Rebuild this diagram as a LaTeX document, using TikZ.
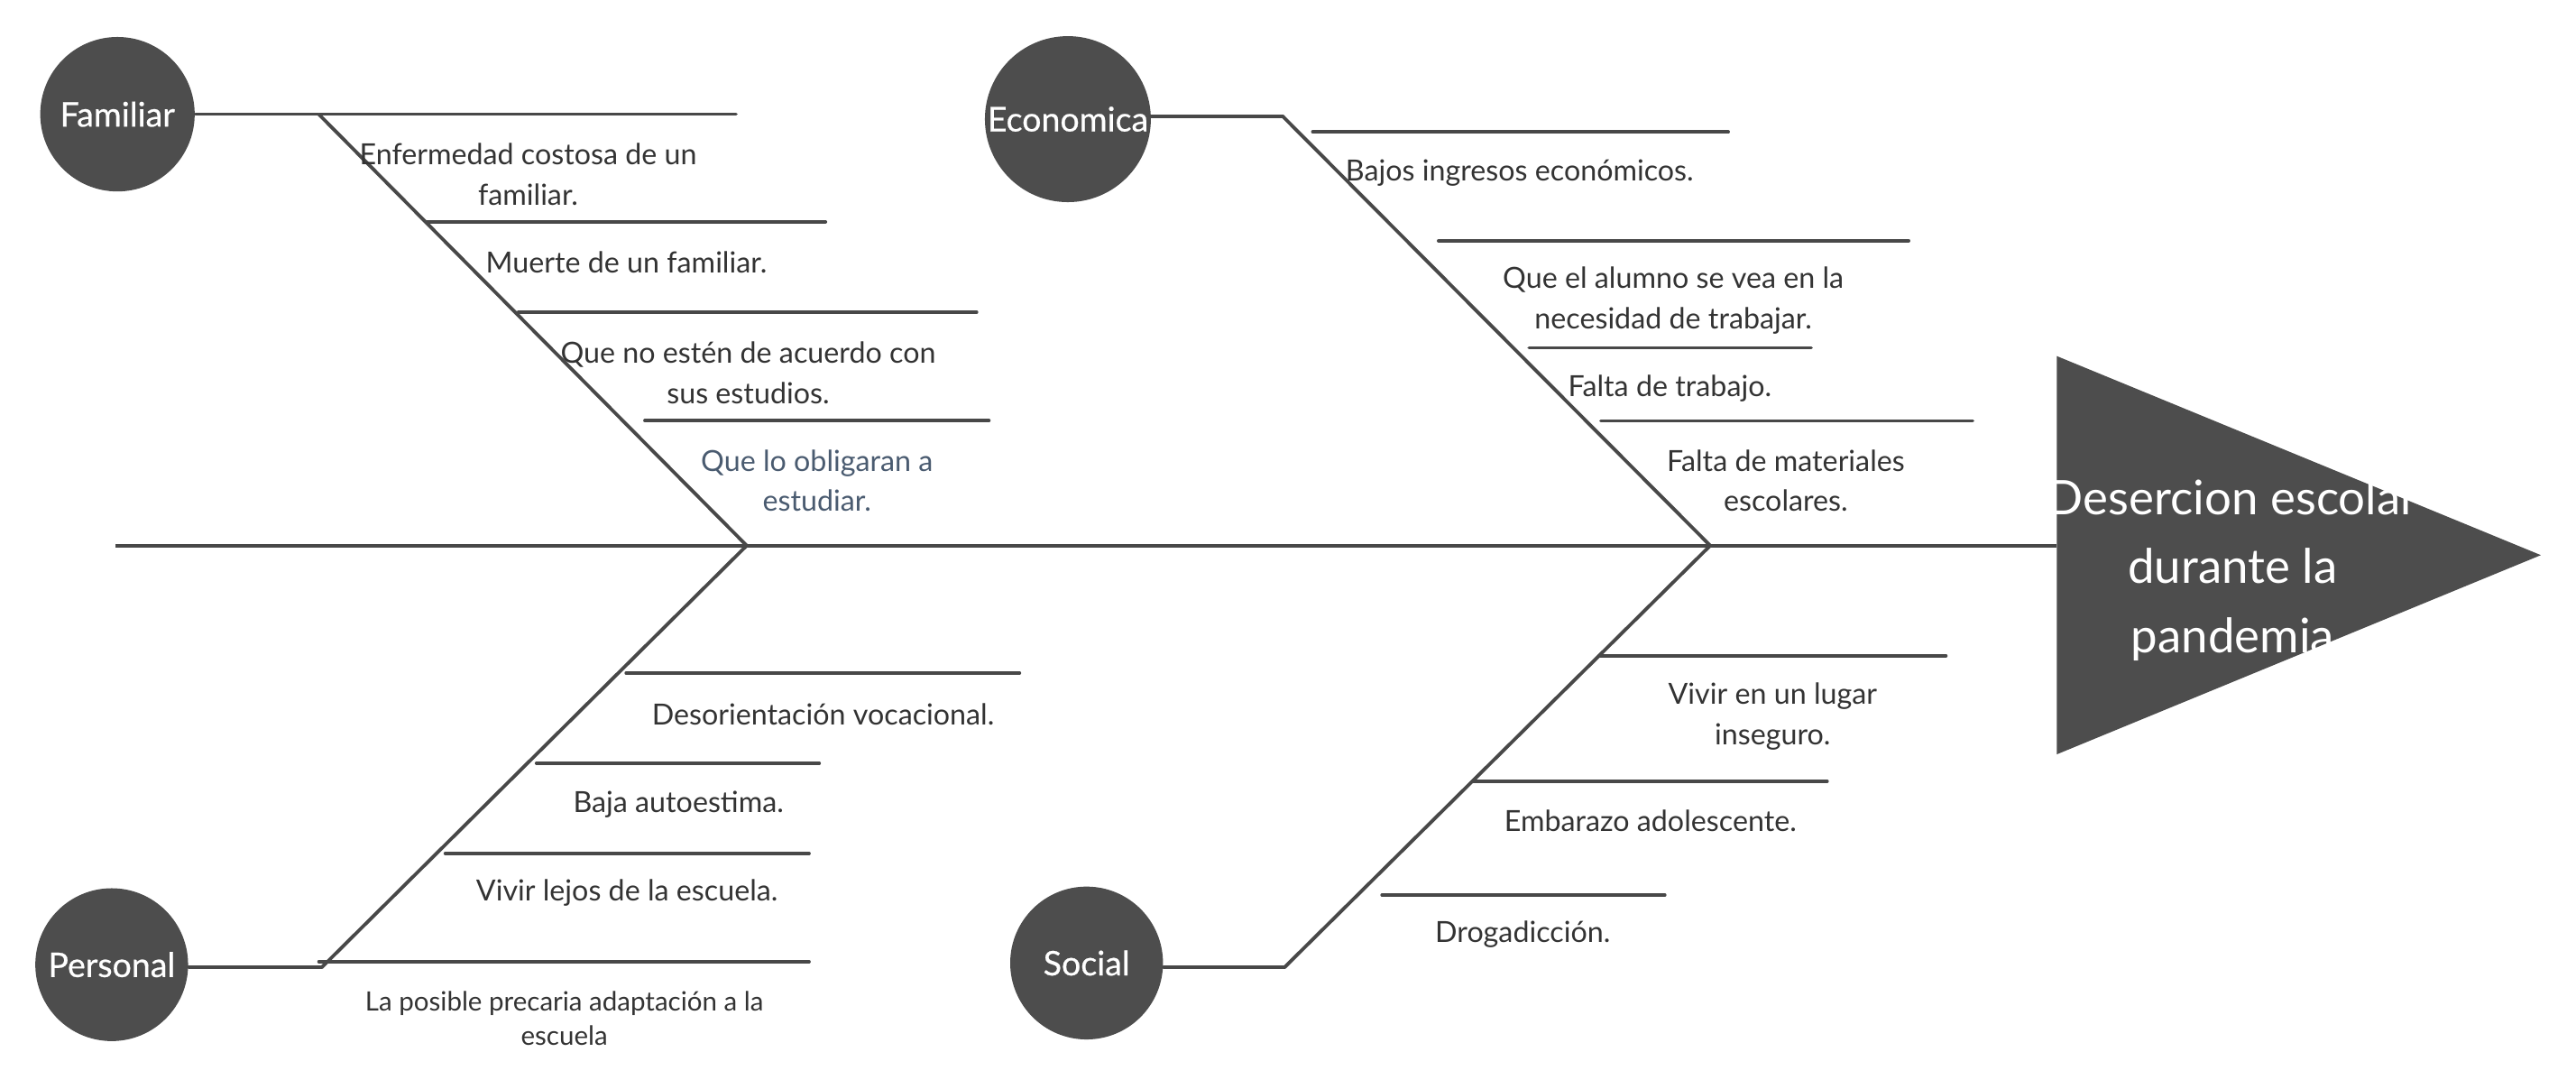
\documentclass[tikz,border=0pt]{standalone}
\usepackage{fontspec}
\setmainfont{Lato}
\newfontfamily\causefont[FakeBold=0.6]{Lato}
\definecolor{lc}{HTML}{484848}
\definecolor{fc}{HTML}{4D4D4D}
\definecolor{tc}{HTML}{333333}
\definecolor{bc}{HTML}{4A5B70}
\begin{document}
\begin{tikzpicture}[x=0.5pt,y=-0.5pt,
  bone/.style={draw=lc, line width=1pt, line cap=round},
  spine/.style={draw=lc, line width=1.1pt},
  diag/.style={draw=lc, line width=1.05pt},
  cause/.style={circle, fill=fc, inner sep=0pt, text=white, font=\causefont\fontsize{10.3}{12}\selectfont},
  lbl/.style={text=tc, align=center, inner sep=0pt, font=\fontsize{8.85}{12.3}\selectfont},
  smalllbl/.style={text=tc, align=center, inner sep=0pt, font=\fontsize{8.1}{10.5}\selectfont},
  headtext/.style={text=white, align=center, inner sep=0pt, font=\fontsize{14.5}{21}\selectfont}]
\useasboundingbox (0,0) rectangle (1568,662.66);

% head
\fill[fc] (1252,216.7) -- (1546.6,337.8) -- (1252,459) -- cycle;
\coordinate (head) at (1252,332);
\coordinate (tail) at (70.5,332);
\coordinate (jL) at (454.5,332);
\coordinate (jR) at (1041,332);
\draw[spine] (tail) -- (head);
\node[headtext] (eff) at (1359,347) {Desercion escolar\\durante la\\pandemia};

% cause circles
\node[cause, minimum size=47pt] (fam) at (71.5,69.5) {Familiar};
\node[cause, minimum size=50.5pt] (eco) at (650,72.5) {Economica};
\node[cause, minimum size=46.5pt] (per) at (68,587) {Personal};
\node[cause, minimum size=46.5pt] (soc) at (661.4,586) {Social};

\coordinate (famK) at (194,69.5);
\coordinate (ecoK) at (781,71);
\coordinate (perK) at (196,588.5);
\coordinate (socK) at (782,588.5);

\draw[bone] (fam.east) -- (famK);
\draw[diag] (famK) -- (jL);
\draw[bone] (eco.east |- ecoK) -- (ecoK);
\draw[diag] (ecoK) -- (jR);
\draw[bone] (per.east |- perK) -- (perK);
\draw[diag] (perK) -- (jL);
\draw[bone] (soc.east |- socK) -- (socK);
\draw[diag] (socK) -- (jR);

% Familiar bones
\coordinate (f1a) at (194.5,69.5); \coordinate (f1b) at (448,69.5);
\coordinate (f2a) at (260,135); \coordinate (f2b) at (502.5,135);
\coordinate (f3a) at (315.5,190); \coordinate (f3b) at (594.5,190);
\coordinate (f4a) at (392.5,256); \coordinate (f4b) at (602,256);
\draw[bone] (f1a) -- (f1b);
\draw[bone] (f2a) -- (f2b);
\draw[bone] (f3a) -- (f3b);
\draw[bone] (f4a) -- (f4b);
\node[lbl] (t1) at (321.5,106) {Enfermedad costosa de un\\familiar.};
\node[lbl] (t2) at (381.3,159.6) {Muerte de un familiar.};
\node[lbl] (t3) at (455.4,226.8) {Que no estén de acuerdo con\\sus estudios.};
\node[lbl, text=bc] (t4) at (497.3,292.5) {Que lo obligaran a\\estudiar.};

% Economica bones
\coordinate (e1a) at (799,80.3); \coordinate (e1b) at (1052,80.3);
\coordinate (e2a) at (875.6,146.5); \coordinate (e2b) at (1161.8,146.5);
\coordinate (e3a) at (930.7,211.7); \coordinate (e3b) at (1102.5,211.7);
\coordinate (e4a) at (974.4,256.2); \coordinate (e4b) at (1200.8,256.2);
\draw[bone] (e1a) -- (e1b);
\draw[bone] (e2a) -- (e2b);
\draw[bone] (e3a) -- (e3b);
\draw[bone] (e4a) -- (e4b);
\node[lbl] (u1) at (925,105.3) {Bajos ingresos económicos.};
\node[lbl] (u2) at (1018.5,182.9) {Que el alumno se vea en la\\necesidad de trabajar.};
\node[lbl] (u3) at (1016.4,236.6) {Falta de trabajo.};
\node[lbl] (u4) at (1087,292.5) {Falta de materiales\\escolares.};

% Personal bones
\coordinate (p1a) at (381.1,409.5); \coordinate (p1b) at (620.6,409.5);
\coordinate (p2a) at (326.5,464.4); \coordinate (p2b) at (498.7,464.4);
\coordinate (p3a) at (271,519.3); \coordinate (p3b) at (492.5,519.3);
\coordinate (p4a) at (194.1,585.2); \coordinate (p4b) at (492.5,585.2);
\draw[bone] (p1a) -- (p1b);
\draw[bone] (p2a) -- (p2b);
\draw[bone] (p3a) -- (p3b);
\draw[bone] (p4a) -- (p4b);
\node[lbl] (v1) at (501,434.8) {Desorientación vocacional.};
\node[lbl] (v2) at (413,489.7) {Baja autoestima.};
\node[lbl] (v3) at (381.7,543.5) {Vivir lejos de la escuela.};
\node[smalllbl] (v4) at (343.5,619.8) {La posible precaria adaptación a la\\escuela};

% Social bones
\coordinate (s1a) at (973.5,399); \coordinate (s1b) at (1184.5,399);
\coordinate (s2a) at (896.7,475.4); \coordinate (s2b) at (1112.2,475.4);
\coordinate (s3a) at (841.2,544.6); \coordinate (s3b) at (1013.4,544.6);
\draw[bone] (s1a) -- (s1b);
\draw[bone] (s2a) -- (s2b);
\draw[bone] (s3a) -- (s3b);
\node[lbl] (w1) at (1079,435.9) {Vivir en un lugar\\inseguro.};
\node[lbl] (w2) at (1004.6,499.6) {Embarazo adolescente.};
\node[lbl] (w3) at (926.9,568.7) {Drogadicción.};
\end{tikzpicture}
\end{document}
